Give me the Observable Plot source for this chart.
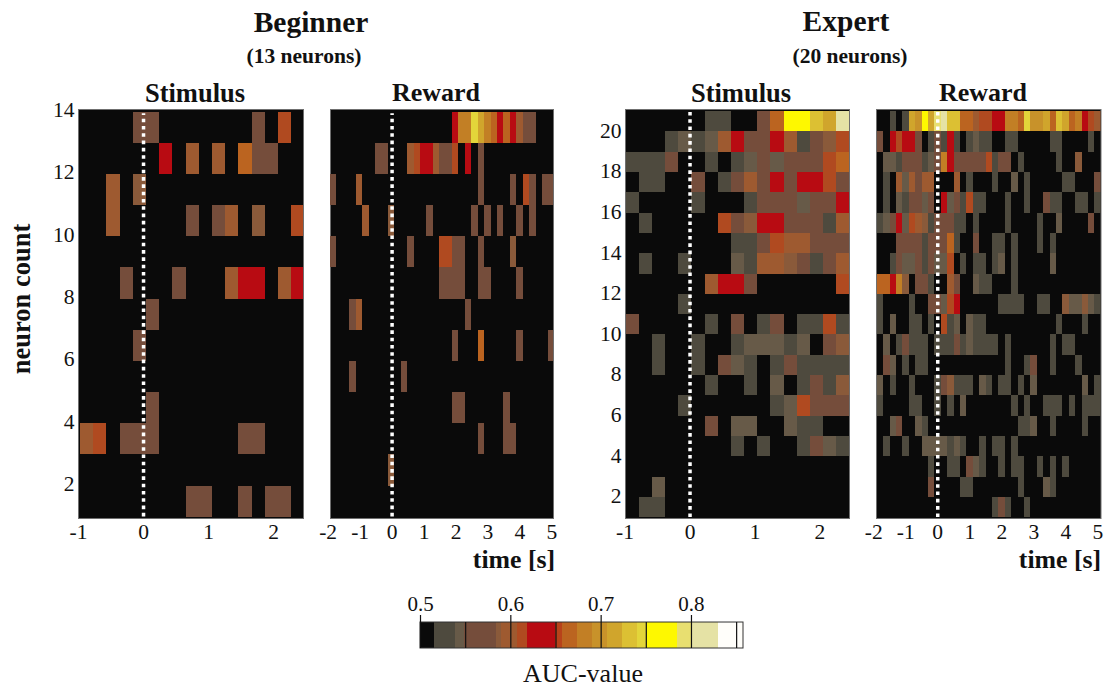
<!DOCTYPE html>
<html>
<head>
<meta charset="utf-8">
<script src="https://cdn.jsdelivr.net/npm/d3@7"></script>
<script src="https://cdn.jsdelivr.net/npm/@observablehq/plot@0.6"></script>
<style>
  html, body { margin: 0; padding: 0; background: #fff; }
  #chart { position: relative; width: 1104px; height: 689px; overflow: hidden; font-family: "Liberation Serif", serif; color: #111; }
  #chart svg { position: absolute; overflow: visible; background: transparent; }
  .t { position: absolute; white-space: nowrap; transform: translate(-50%, -50%); line-height: 1; font-weight: bold; }
</style>
</head>
<body>
<div id="chart"></div>
<script>
// AUC levels
const D=.53,T=.545,B=.57,M=.588,O=.60,S=.612,R=.63,Q=.655,A=.665,G=.68,H=.70,C=.715,E=.73,F=.745,Y=.77,L=.79,P=.81,W=.84;

const aucThresholds = [.516,.539,.549,.584,.59,.607,.618,.65,.657,.674,.69,.707,.724,.74,.75,.785,.80,.83];
const aucColors = ["#0a0a0a","#4e4a3e","#675a48","#754d3b","#8a5a3a","#9e5a30","#b04a20","#b80b12","#b8421a","#bb6420","#c27f25","#c8922a","#d0a52c","#dcc033","#e3d53a","#fef800","#e8df70","#e5e2a5","#fffefa"];

// every row lists bin, AUC, bin, AUC ... from the top row down
const beginnerStimulus = [
  [4,B,5,B,13,B,15,S],
  [6,R,8,O,10,O,12,A,13,B,14,B],
  [2,O,4,M],
  [2,O,8,B,10,B,11,O,13,M,16,S],
  [],
  [3,B,7,B,11,O,12,R,13,R,15,O,16,R],
  [5,B],
  [4,B],
  [],
  [5,B],
  [0,O,1,S,3,B,4,B,5,B,12,B,13,B],
  [],
  [8,B,9,B,12,B,14,B,15,B]
];
const beginnerReward = [
  [19,R,20,G,21,G,22,F,23,C,24,G,25,A,26,R,27,A,28,R,29,O,30,B,31,B],
  [7,B,8,B,12,O,13,S,14,R,15,R,16,O,17,B,18,B,19,S,21,R,23,B],
  [0,B,4,O,23,B,28,B,30,S,31,B,33,B,34,B],
  [5,O,9,M,15,B,22,B,24,B,26,B,29,B,31,B],
  [0,B,12,B,17,S,18,S,19,B,20,B,23,B,28,M],
  [17,B,18,B,19,B,20,B,23,B,24,B,29,B],
  [3,B,4,O,21,B],
  [19,B,23,A,29,B,34,B],
  [3,B,11,B],
  [19,B,20,B,27,B],
  [23,B,27,B,28,B],
  [9,M],
  []
];
const expertStimulus = [
  [6,D,7,D,10,B,11,A,12,Y,13,Y,14,E,15,C,16,P],
  [3,D,4,T,5,D,6,T,7,O,8,R,9,B,10,B,11,R,12,O,13,D,14,B,15,M,16,S],
  [0,D,1,D,2,D,3,B,6,D,8,D,9,T,10,B,11,T,12,B,13,B,14,B,15,S,16,A],
  [1,D,2,D,5,B,7,D,8,B,9,O,10,B,11,R,12,B,13,R,14,R,15,S,16,B],
  [0,D,5,D,9,D,10,B,11,B,12,B,13,T,14,B,15,B,16,R],
  [1,D,7,S,8,B,9,M,10,R,11,R,12,B,13,B,14,B,15,D,16,O],
  [8,D,9,D,10,B,11,S,12,O,13,O,14,B,15,B,16,B],
  [1,D,4,D,8,T,9,D,10,O,11,O,12,M,13,B,14,D,15,B,16,O],
  [6,O,7,R,8,R,9,B,16,S],
  [4,D],
  [0,B,6,D,8,B,10,D,11,B,13,D,14,D,15,S,16,D],
  [2,D,5,D,8,D,9,T,10,T,11,T,12,D,13,T,15,B,16,M],
  [2,D,5,D,7,B,8,T,9,D,11,D,12,B,13,D,14,D,15,D,16,D],
  [6,D,9,D,11,T,13,D,14,B,15,D,16,M],
  [4,D,11,D,12,T,13,S,14,B,15,B,16,B],
  [6,B,8,T,9,T,12,T,13,D,14,D],
  [8,D,10,D,13,D,14,B,15,T,16,D],
  [],
  [2,T],
  [1,D,2,D]
];
const expertReward = [
  [2,D,4,D,5,C,6,H,7,Y,8,C,9,L,10,P,11,E,12,E,13,A,14,A,15,O,16,S,17,S,18,R,19,R,20,G,21,G,22,A,23,F,24,H,25,H,26,C,27,A,28,E,29,C,30,A,31,G,32,R,33,S,34,O],
  [0,B,2,R,3,S,4,R,5,R,6,B,8,D,9,B,10,D,11,R,12,D,14,D,15,T,16,D,17,D,20,D,21,D,27,D,28,D,33,D],
  [1,T,2,T,3,D,4,B,5,B,6,B,7,D,8,T,9,B,10,G,11,R,12,B,13,B,14,B,15,B,16,B,17,S,18,D,19,B,20,B,22,D,28,D,31,M],
  [1,D,3,O,4,T,5,O,6,B,7,O,8,O,12,O,14,D,18,D,21,T,23,D,29,D,30,D,34,B],
  [1,D,3,T,4,D,5,B,6,B,7,T,8,B,10,R,11,T,12,B,13,D,14,S,15,D,16,D,20,D,23,D,26,B,27,D,28,D,31,D,32,D,34,D],
  [0,D,1,T,2,B,3,R,4,T,5,S,6,O,7,M,8,D,9,B,10,B,11,B,12,D,13,D,15,D,20,D,25,D,28,T,33,B],
  [3,B,4,B,5,B,6,B,7,D,8,B,9,B,10,B,11,A,12,D,15,B,18,D,19,D,21,D,25,D,27,D],
  [2,D,3,B,4,T,5,T,6,B,7,D,8,B,9,T,10,T,11,S,13,D,15,D,16,D,18,D,19,T,21,D,27,T],
  [0,A,1,A,2,R,3,G,4,M,6,B,7,B,8,D,11,O,12,B,15,T,16,D,17,D,21,D],
  [0,D,5,D,8,B,9,B,10,T,11,S,12,R,19,D,20,D,21,D,22,D,25,D,26,D,29,M,30,T,31,T,32,M,33,T,34,D],
  [0,D,2,T,5,D,6,D,8,D,10,S,11,D,12,T,14,T,15,D,16,D,28,D,32,D],
  [1,T,3,D,4,B,5,D,6,D,7,D,9,D,10,D,11,D,12,B,13,D,14,T,15,D,16,D,17,D,18,D,20,D,27,D,29,D,30,D],
  [1,B,2,T,4,D,6,D,7,D,20,D,23,D,24,B,27,D,31,D],
  [0,T,2,D,5,D,9,D,10,B,11,M,12,D,13,D,14,D,16,T,17,D,19,D,20,D,22,D,24,T,32,T,34,D],
  [0,D,5,D,6,D,9,D,11,D,13,T,21,D,23,D,26,D,27,D,28,D,30,D,32,D,33,D,34,D],
  [2,T,3,B,6,T,7,D,22,D,23,D,24,T,27,D,32,D],
  [1,D,4,D,7,T,8,T,9,T,10,T,11,D,12,T,13,D,16,D,18,D,19,D,21,D],
  [8,D,11,D,12,D,14,B,15,T,16,D,19,D,21,D,22,D,25,D,27,D,29,D],
  [8,B,13,D,14,D,22,D,26,T,27,D],
  [18,D,19,B,20,D,23,D]
];

const stimulusTicks = [-1, 0, 1, 2];
const rewardTicks = [-2, -1, 0, 1, 2, 3, 4, 5];
const beginnerRowTicks = [2, 4, 6, 8, 10, 12, 14];
const expertRowTicks = [2, 4, 6, 8, 10, 12, 14, 16, 18, 20];

const panels = [
  {rows: beginnerStimulus, first: 13, t0: -0.97,  dt: 0.203,  left: 78,    right: 303,   xd: [-1, 2.46],      xt: stimulusTicks, yt: beginnerRowTicks, yd: [0.958, 14.087], dy: -2},
  {rows: beginnerReward,   first: 13, t0: -1.927, dt: 0.201,  left: 329.5, right: 552.5, xd: [-1.927, 5.05],  xt: rewardTicks,   yt: null,             yd: [0.958, 14.087]},
  {rows: expertStimulus,   first: 20, t0: -0.985, dt: 0.2026, left: 624.5, right: 848.5, xd: [-0.993, 2.454], xt: stimulusTicks, yt: expertRowTicks,   yd: [0.965, 21.1], dy: -1},
  {rows: expertReward,     first: 20, t0: -1.888, dt: 0.2,    left: 875.5, right: 1100,  xd: [-1.913, 5.1],   xt: rewardTicks,   yt: null,             yd: [0.965, 21.1]}
];

const chart = document.getElementById("chart");
const colorScale = {type: "threshold", domain: aucThresholds, range: aucColors};
const serif = {fontFamily: "Liberation Serif, serif", background: "transparent"};

for (const p of panels) {
  const cells = p.rows.flatMap((row, i) => {
    const out = [];
    for (let j = 0; j < row.length; j += 2) {
      out.push({t1: p.t0 + row[j] * p.dt, t2: p.t0 + (row[j] + 1) * p.dt, r: p.first - i, auc: row[j + 1]});
    }
    return out;
  });
  const mL = 45, mR = 15, mT = 5, mB = 32;
  const svg = Plot.plot({
    width: p.right - p.left + mL + mR,
    height: 409 + mT + mB,
    marginLeft: mL, marginRight: mR, marginTop: mT, marginBottom: mB,
    style: serif,
    x: {domain: p.xd, label: null},
    y: {domain: p.yd, label: null, axis: p.yt ? undefined : null},
    color: colorScale,
    marks: [
      Plot.frame({fill: "#0a0a0a", stroke: "#6f6f6f"}),
      Plot.rect(cells, {x1: "t1", x2: "t2", y1: "r", y2: d => d.r + 1, fill: "auc", clip: true, shapeRendering: "crispEdges"}),
      Plot.ruleX([0], {y1: p.yd[0] + 0.05, y2: p.first + 0.95, stroke: "white", strokeWidth: 3.5, strokeDasharray: "3.6,3.7"}),
      Plot.axisX({ticks: p.xt, tickSize: 0, tickPadding: 5, fontSize: 21.5, label: null, tickFormat: d => String(d)}),
      p.yt ? Plot.axisY({ticks: p.yt, tickSize: 0, tickPadding: 4, fontSize: 21.5, label: null, dy: p.dy, tickFormat: d => String(d)}) : null
    ]
  });
  svg.style.left = (p.left - mL) + "px";
  svg.style.top = (109 - mT) + "px";
  chart.appendChild(svg);
}

// colour bar
const barEdges = [0.5, ...aucThresholds, 0.8576];
const barCells = aucColors.map((c, i) => ({a: barEdges[i], b: barEdges[i + 1], auc: (barEdges[i] + barEdges[i + 1]) / 2}));
const barMajor = [0.5, 0.6, 0.7, 0.8];
const barMinor = [0.55, 0.65, 0.75, 0.85];
{
  const mL = 15, mR = 8, mT = 26, mB = 4;
  const svg = Plot.plot({
    width: 323 + mL + mR,
    height: 33 + mT + mB,
    marginLeft: mL, marginRight: mR, marginTop: mT, marginBottom: mB,
    style: serif,
    x: {domain: [0.5, 0.8576], axis: null},
    y: {domain: [0, 1.27], axis: null},
    color: colorScale,
    marks: [
      Plot.rect(barCells, {x1: "a", x2: "b", y1: 0, y2: 1, fill: "auc", shapeRendering: "crispEdges"}),
      Plot.rect([0], {x1: 0.5, x2: 0.8576, y1: 0, y2: 1, fill: "none", stroke: "#333", strokeWidth: 1}),
      Plot.ruleX(barMajor, {y1: 0, y2: 1.27, stroke: "#111", strokeWidth: 1.2}),
      Plot.ruleX(barMinor, {y1: 0, y2: 1, stroke: "#111", strokeWidth: 1.2}),
      Plot.text(barMajor, {x: d => d, y: 1.27, dy: -11, text: d => d.toFixed(1), fontSize: 21, fill: "#111"})
    ]
  });
  svg.style.left = (420 - mL) + "px";
  svg.style.top = (615 - mT) + "px";
  chart.appendChild(svg);
}

// titles and captions
const labels = [
  ["Beginner", 311, 23, 29.5], ["(13 neurons)", 304, 57, 21.5],
  ["Expert", 846, 22, 29.5], ["(20 neurons)", 850, 57, 21.5],
  ["Stimulus", 195, 93, 26.5], ["Reward", 436, 93, 26],
  ["Stimulus", 741, 93, 26.5], ["Reward", 983, 93, 26],
  ["time [s]", 514, 560, 25.8], ["time [s]", 1060, 560, 25.8]
];
for (const [s, x, y, size] of labels) {
  const el = document.createElement("div");
  el.className = "t";
  el.textContent = s;
  el.style.left = x + "px";
  el.style.top = y + "px";
  el.style.fontSize = size + "px";
  chart.appendChild(el);
}
const yTitle = document.createElement("div");
yTitle.className = "t";
yTitle.textContent = "neuron count";
yTitle.style.cssText = "left:21px;top:299px;font-size:26.5px;transform:translate(-50%,-50%) rotate(-90deg);";
chart.appendChild(yTitle);
const barTitle = document.createElement("div");
barTitle.className = "t";
barTitle.textContent = "AUC-value";
barTitle.style.cssText = "left:583px;top:674px;font-size:26px;font-weight:normal;";
chart.appendChild(barTitle);
</script>
</body>
</html>
